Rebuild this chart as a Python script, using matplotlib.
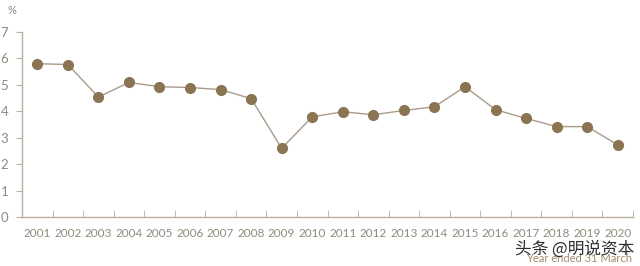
import numpy as np
import matplotlib.pyplot as plt

# Yield (%) by financial year
years = [str(y) for y in range(2001, 2021)]
values = [5.80, 5.77, 4.54, 5.09, 4.93, 4.90, 4.82, 4.48, 2.60, 3.79,
          3.98, 3.87, 4.03, 4.17, 4.93, 4.06, 3.73, 3.42, 3.42, 2.73]
y_ticks = list(range(0, 8))

TEXT = "#8f8a7c"
AXIS = "#bcae9c"
MARKER = "#8b7452"
LINE = "#a99b8a"

plt.rcParams['font.family'] = ['Lato', 'DejaVu Sans']

fig = plt.figure(figsize=(6.4, 2.66), dpi=100)
ax = fig.add_axes([22 / 640, 49 / 266, 611 / 640, 185 / 266])

x = np.arange(len(years))
ax.plot(x, values, color=LINE, lw=1.0, zorder=2)
ax.plot(x, values, 'o', color=MARKER, ms=7, zorder=3)

ax.set_xlim(-0.5, len(years) - 0.5)
ax.set_ylim(0, 7)
ax.set_yticks(y_ticks)
ax.set_xticks(x)
ax.set_xticklabels(years)
ax.set_xticks(np.arange(-0.5, len(years)), minor=True)

for s in ['top', 'right']:
    ax.spines[s].set_visible(False)
for s in ['left', 'bottom']:
    ax.spines[s].set_color(AXIS)
    ax.spines[s].set_linewidth(1.0)

ax.tick_params(axis='y', colors=AXIS, labelcolor=TEXT, labelsize=9.5, length=4, pad=6)
ax.tick_params(axis='x', which='major', length=0, labelcolor=TEXT, labelsize=8.5, pad=8)
ax.tick_params(axis='x', which='minor', direction='in', length=5, color=AXIS)

fig.text(8 / 640, 1 - 11 / 266, "%", color=TEXT, fontsize=8, ha='left', va='center')
fig.text(632 / 640, 1 - 258 / 266, "Year ended 31 March", color="#a08c6c",
         fontsize=8, ha='right', va='center')
fig.text(515 / 640, 1 - 249 / 266, "头条 @明说资本", color="#2e2e2e", fontsize=12,
         family=['Noto Sans CJK SC', 'DejaVu Sans'], ha='left', va='center')

fig.savefig("out.png", dpi=100)
